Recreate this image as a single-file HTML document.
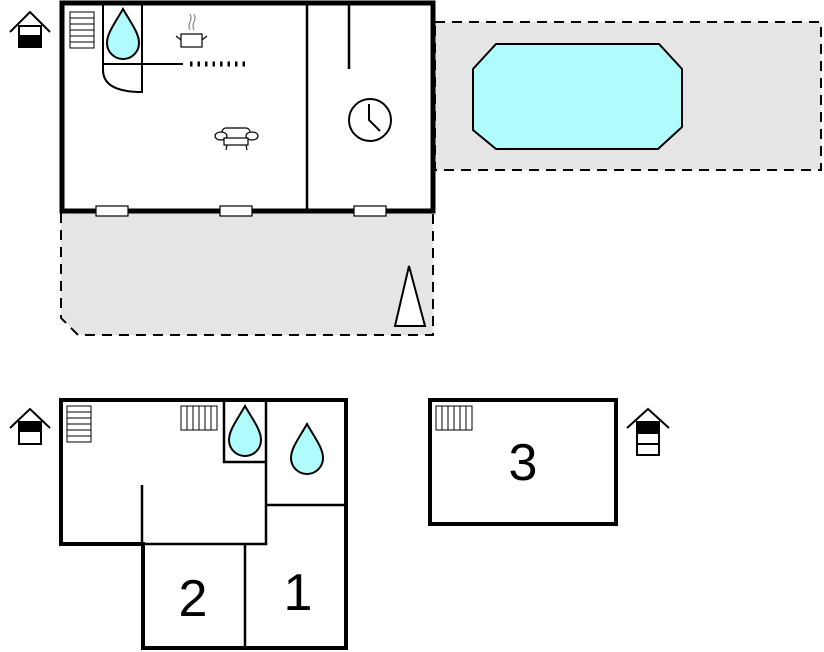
<!DOCTYPE html>
<html><head><style>body{margin:0;background:#fff}svg{display:block}</style></head><body>
<svg width="824" height="652" viewBox="0 0 824 652" xmlns="http://www.w3.org/2000/svg" font-family="Liberation Sans, sans-serif">
<defs>
<g id="drop"><path d="M0 0 C-8 14 -16 24 -16 34 A16 16 0 0 0 16 34 C16 24 8 14 0 0 Z" fill="#b0fbfb" stroke="#000" stroke-width="2"/></g>
</defs>
<!-- pool area -->
<rect x="435" y="22" width="386" height="148" fill="#e5e5e5" stroke="#000" stroke-width="2" stroke-dasharray="10,7"/>
<polygon points="496,44 659,44 682,69 682,127 658,149 496,149 473,130 473,69" fill="#b0fbfb" stroke="#000" stroke-width="2"/>
<!-- terrace -->
<path d="M61 213 L61 318 L78 335 L433 335 L433 213" fill="#e5e5e5" stroke="#000" stroke-width="2" stroke-dasharray="10,7"/>
<polygon points="395,326 409,266 425,326" fill="#fff" stroke="#000" stroke-width="2"/>
<!-- top building -->
<rect x="62" y="3" width="371" height="208" fill="#fff" stroke="#000" stroke-width="5"/>
<line x1="307" y1="3" x2="307" y2="211" stroke="#000" stroke-width="2.5"/>
<line x1="349" y1="4" x2="349" y2="69" stroke="#000" stroke-width="2.5"/>
<g fill="#fff" stroke="#000" stroke-width="1.2">
<rect x="96" y="206" width="32" height="10"/><rect x="220" y="206" width="32" height="10"/><rect x="354" y="206" width="32" height="10"/>
</g>
<!-- stairs -->
<g stroke="#000" stroke-width="1" fill="#fff">
<rect x="70" y="12" width="24" height="36"/>
<line x1="70" y1="18" x2="94" y2="18"/><line x1="70" y1="24" x2="94" y2="24"/><line x1="70" y1="30" x2="94" y2="30"/><line x1="70" y1="36" x2="94" y2="36"/><line x1="70" y1="42" x2="94" y2="42"/>
</g>
<!-- bathroom -->
<path d="M103 3 L103 70 Q103 92 142 92 L142 3" fill="none" stroke="#000" stroke-width="2"/>
<line x1="103" y1="64" x2="183" y2="64" stroke="#000" stroke-width="2"/>
<line x1="190" y1="64" x2="247" y2="64" stroke="#000" stroke-width="5" stroke-dasharray="2.5,5"/>
<use href="#drop" x="123" y="9"/>
<!-- pot -->
<g stroke="#000" stroke-width="1.2" fill="#fff">
<rect x="181" y="34" width="21" height="13"/><line x1="176" y1="36" x2="181" y2="40"/><line x1="207" y1="36" x2="202" y2="40"/>
<path d="M190 30 q-2 -4 0 -8 q2 -4 0 -8 M194 30 q-2 -4 0 -8 q2 -4 0 -8" fill="none" stroke="#888"/>
</g>
<!-- sofa -->
<g stroke="#000" stroke-width="1.2" fill="#fff">
<rect x="222" y="128" width="28" height="12" rx="4"/>
<ellipse cx="221" cy="136" rx="6" ry="4"/><ellipse cx="252" cy="136" rx="6" ry="4"/>
<rect x="224" y="138" width="24" height="7"/>
<line x1="227" y1="145" x2="226" y2="150"/><line x1="246" y1="145" x2="247" y2="150"/>
</g>
<!-- clock -->
<circle cx="370" cy="120" r="21" fill="#fff" stroke="#000" stroke-width="2"/>
<polyline points="369,104 369,120 380,131" fill="none" stroke="#000" stroke-width="2"/>
<!-- house icons -->
<g stroke="#000" stroke-width="2" fill="#fff">
<polyline points="10,32 30,12 50,32"/><rect x="19" y="26" width="22" height="21"/><rect x="19" y="36" width="22" height="11" fill="#000"/>
<polyline points="10,428 30,409 50,428"/><rect x="19" y="422" width="22" height="22"/><rect x="19" y="422" width="22" height="9" fill="#000"/>
<polyline points="627,428 648,409 669,428"/><rect x="637" y="422" width="22" height="33"/><rect x="637" y="422" width="22" height="11" fill="#000"/><line x1="637" y1="444" x2="659" y2="444"/>
</g>
<!-- bottom building -->
<polygon points="61,400 346,400 346,648 143,648 143,544 61,544" fill="#fff" stroke="#000" stroke-width="4"/>
<g stroke="#000" stroke-width="2.5" fill="none">
<polyline points="143,544 266,544 266,400"/>
<line x1="266" y1="505" x2="346" y2="505"/>
<line x1="245" y1="544" x2="245" y2="648"/>
<line x1="142" y1="485" x2="142" y2="545"/>
<polyline points="224,400 224,462 266,462"/>
</g>
<g stroke="#000" stroke-width="1" fill="#fff">
<rect x="67" y="406" width="24" height="36"/>
<line x1="67" y1="412" x2="91" y2="412"/><line x1="67" y1="418" x2="91" y2="418"/><line x1="67" y1="424" x2="91" y2="424"/><line x1="67" y1="430" x2="91" y2="430"/><line x1="67" y1="436" x2="91" y2="436"/>
<rect x="181" y="406" width="36" height="24"/>
<line x1="187" y1="406" x2="187" y2="430"/><line x1="193" y1="406" x2="193" y2="430"/><line x1="199" y1="406" x2="199" y2="430"/><line x1="205" y1="406" x2="205" y2="430"/><line x1="211" y1="406" x2="211" y2="430"/>
<rect x="436" y="406" width="36" height="24"/>
<line x1="442" y1="406" x2="442" y2="430"/><line x1="448" y1="406" x2="448" y2="430"/><line x1="454" y1="406" x2="454" y2="430"/><line x1="460" y1="406" x2="460" y2="430"/><line x1="466" y1="406" x2="466" y2="430"/>
</g>
<use href="#drop" x="245" y="406"/>
<use href="#drop" x="307" y="424"/>
<text x="193" y="616" font-size="52" text-anchor="middle">2</text>
<text x="298" y="610" font-size="52" text-anchor="middle">1</text>
<!-- third building -->
<rect x="430" y="400" width="186" height="124" fill="none" stroke="#000" stroke-width="4"/>
<text x="523" y="480" font-size="52" text-anchor="middle">3</text>
</svg>
</body></html>
